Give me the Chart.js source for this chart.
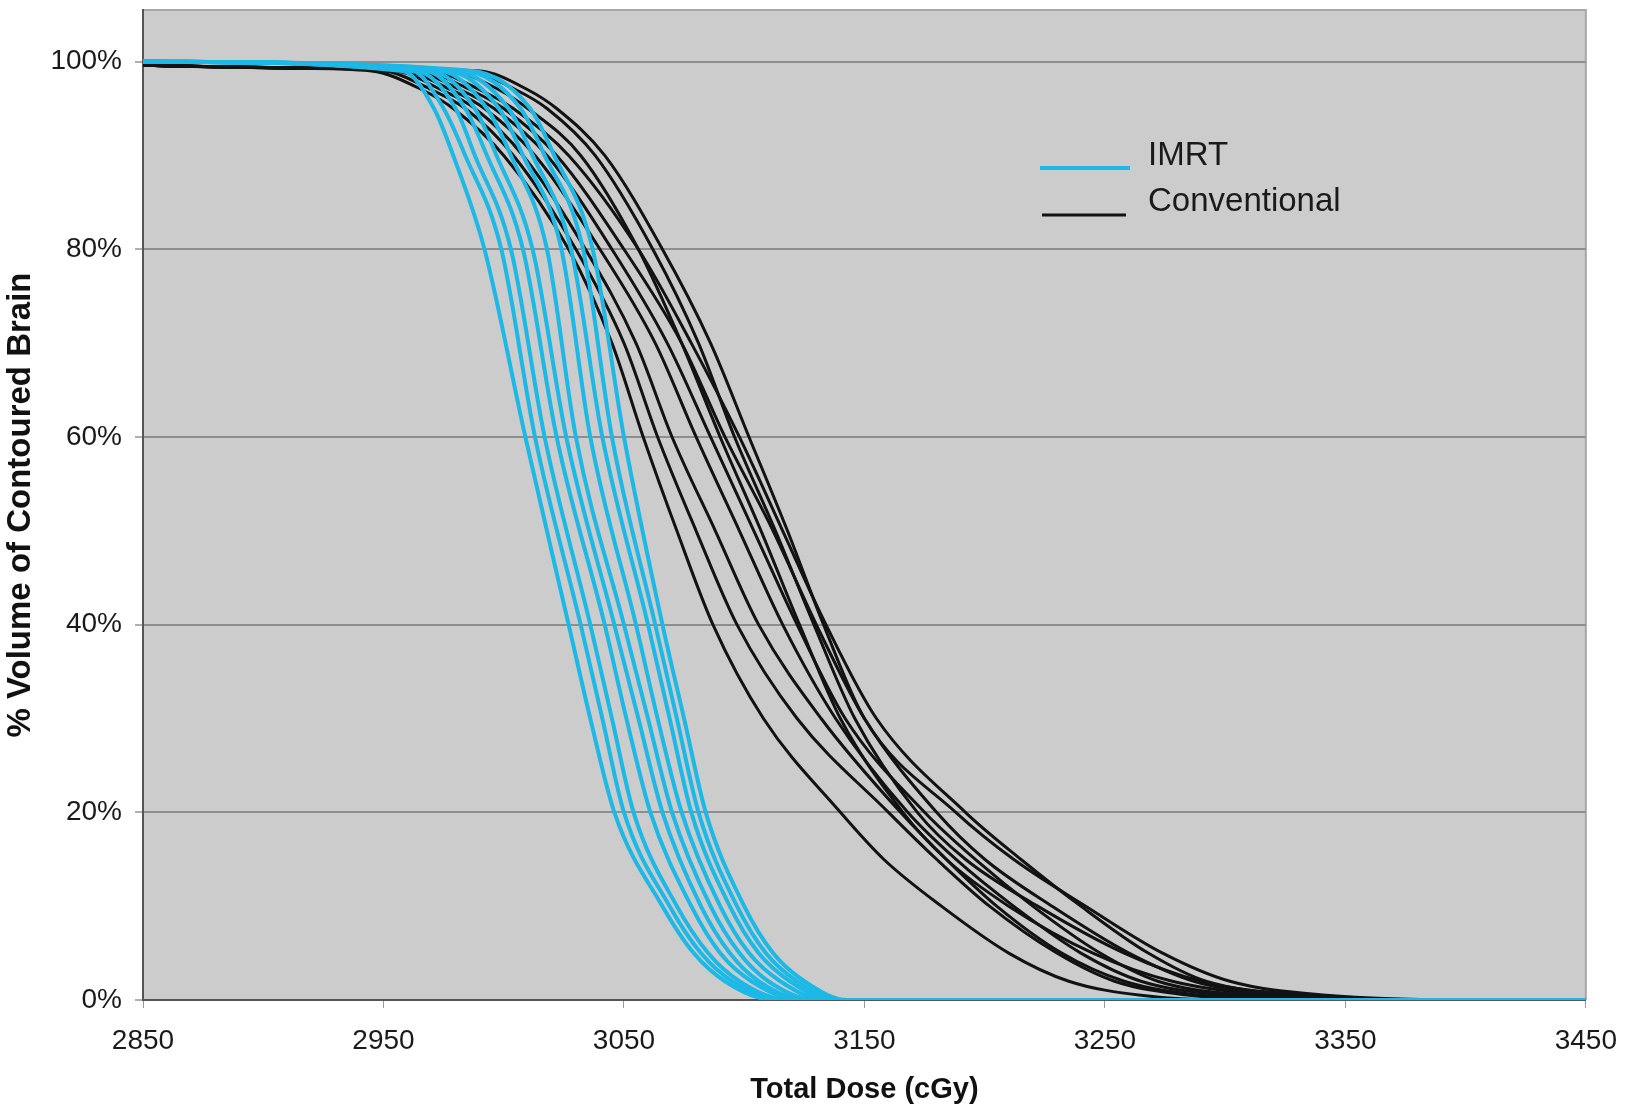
<!DOCTYPE html>
<html>
<head>
<meta charset="utf-8">
<script src="https://cdn.jsdelivr.net/npm/chart.js@4/dist/chart.umd.min.js"></script>
<style>
  html, body { margin: 0; padding: 0; background: #ffffff; }
  #wrap { width: 1633px; height: 1107px; }
</style>
</head>
<body>
<div id="wrap"><canvas id="dvh" width="1633" height="1107"></canvas></div>
<script>
// tick labels
var doseTicks = [2850, 2950, 3050, 3150, 3250, 3350, 3450];
var volumeTicks = [0, 20, 40, 60, 80, 100];

// IMRT curves: dose (cGy) read at each volume level
var imrtLevels = [100, 99, 95, 90, 80, 60, 40, 30, 20, 10, 5, 2, 0, 0];
var imrt1 = [2850, 2958, 2971, 2979, 2992, 3009, 3027, 3036, 3046, 3066, 3079, 3092, 3112, 3450];
var imrt2 = [2850, 2962, 2975, 2984, 2999, 3013, 3032, 3041, 3050, 3069, 3082, 3095, 3115, 3450];
var imrt3 = [2850, 2964, 2980, 2988, 3003, 3017, 3036, 3045, 3054, 3072, 3085, 3098, 3118, 3450];
var imrt4 = [2850, 2968, 2984, 2993, 3008, 3022, 3042, 3051, 3061, 3078, 3090, 3103, 3123, 3450];
var imrt5 = [2850, 2970, 2988, 2997, 3012, 3026, 3046, 3056, 3066, 3082, 3094, 3106, 3126, 3450];
var imrt6 = [2850, 2974, 2993, 3003, 3018, 3030, 3050, 3060, 3070, 3086, 3098, 3110, 3130, 3450];
var imrt7 = [2850, 2977, 2998, 3008, 3024, 3036, 3055, 3064, 3074, 3090, 3102, 3115, 3134, 3450];
var imrt8 = [2850, 2980, 3002, 3012, 3028, 3041, 3060, 3069, 3078, 3094, 3106, 3119, 3137, 3450];
var imrt9 = [2850, 2984, 3007, 3017, 3033, 3045, 3063, 3072, 3081, 3097, 3109, 3122, 3140, 3450];
var imrt10 = [2850, 2987, 3011, 3021, 3037, 3050, 3066, 3075, 3084, 3100, 3112, 3125, 3143, 3450];

// Conventional curves: dose (cGy) read at each volume level
var convLevels = [99.6, 99.3, 99, 97, 95, 90, 80, 70, 60, 50, 40, 30, 20, 15, 10, 5, 2, 0.5, 0, 0];
var conv1 = [2850, 2910, 2945, 2966, 2979, 3000, 3027, 3045, 3058, 3072, 3087, 3108, 3140, 3158, 3182, 3210, 3235, 3265, 3300, 3450];
var conv2 = [2850, 2912, 2950, 2970, 2984, 3004, 3030, 3050, 3064, 3080, 3097, 3122, 3160, 3180, 3202, 3230, 3254, 3285, 3320, 3450];
var conv3 = [2850, 2915, 2955, 2974, 2988, 3008, 3034, 3055, 3070, 3088, 3106, 3132, 3165, 3184, 3205, 3232, 3258, 3290, 3330, 3450];
var conv4 = [2850, 2918, 2958, 2978, 2992, 3013, 3040, 3063, 3080, 3098, 3116, 3138, 3168, 3188, 3212, 3240, 3265, 3300, 3340, 3450];
var conv5 = [2850, 2920, 2962, 2982, 2996, 3018, 3045, 3068, 3086, 3104, 3122, 3142, 3175, 3196, 3220, 3248, 3272, 3310, 3350, 3450];
var conv6 = [2850, 2922, 2966, 2986, 3000, 3022, 3050, 3074, 3092, 3112, 3130, 3150, 3180, 3200, 3228, 3260, 3287, 3320, 3370, 3450];
var conv7 = [2850, 2924, 2970, 2990, 3004, 3027, 3056, 3078, 3098, 3116, 3134, 3155, 3192, 3215, 3240, 3268, 3292, 3335, 3395, 3450];
var conv8 = [2850, 2926, 2978, 2998, 3010, 3032, 3056, 3074, 3090, 3107, 3123, 3140, 3166, 3184, 3210, 3245, 3278, 3320, 3380, 3450];
var conv9 = [2850, 2928, 2985, 3005, 3018, 3038, 3062, 3081, 3096, 3113, 3129, 3146, 3172, 3192, 3222, 3258, 3290, 3330, 3390, 3450];
var conv10 = [2850, 2930, 2990, 3010, 3022, 3042, 3066, 3086, 3102, 3118, 3133, 3150, 3188, 3212, 3242, 3274, 3302, 3342, 3405, 3450];

var imrtCurves = [imrt1, imrt2, imrt3, imrt4, imrt5, imrt6, imrt7, imrt8, imrt9, imrt10];
var convCurves = [conv1, conv2, conv3, conv4, conv5, conv6, conv7, conv8, conv9, conv10];

var IMRT_COLOR = "#1cb8e6";
var CONV_COLOR = "#121212";
var FONT = "'Liberation Sans', Arial, sans-serif";

function toPoints(doses, levels) {
  return doses.map(function (d, i) { return { x: d, y: levels[i] }; });
}

var datasets = [];
imrtCurves.forEach(function (c) {
  datasets.push({
    label: "IMRT",
    data: toPoints(c, imrtLevels),
    borderColor: IMRT_COLOR,
    borderWidth: 4,
  });
});
convCurves.forEach(function (c) {
  datasets.push({
    label: "Conventional",
    data: toPoints(c, convLevels),
    borderColor: CONV_COLOR,
    borderWidth: 3,
  });
});

// grey plot area with thin frame
var plotArea = {
  id: "plotArea",
  beforeDraw: function (chart) {
    var ctx = chart.ctx, a = chart.chartArea;
    ctx.save();
    ctx.fillStyle = "#cccccc";
    ctx.fillRect(a.left, a.top, a.right - a.left, a.bottom - a.top);
    ctx.strokeStyle = "#a8a8a8";
    ctx.lineWidth = 2;
    ctx.beginPath();
    ctx.moveTo(a.left, a.top);
    ctx.lineTo(a.right, a.top);
    ctx.lineTo(a.right, a.bottom);
    ctx.stroke();
    ctx.restore();
  },
};

// excel style legend inside the plot
var legendBox = {
  id: "legendBox",
  afterDraw: function (chart) {
    var ctx = chart.ctx, a = chart.chartArea;
    var x0 = a.left + 897, y0 = a.top + 158;
    ctx.save();
    ctx.lineCap = "butt";
    ctx.strokeStyle = IMRT_COLOR;
    ctx.lineWidth = 4;
    ctx.beginPath(); ctx.moveTo(x0, y0); ctx.lineTo(x0 + 90, y0); ctx.stroke();
    ctx.strokeStyle = CONV_COLOR;
    ctx.lineWidth = 3;
    ctx.beginPath(); ctx.moveTo(x0 + 2, y0 + 47); ctx.lineTo(x0 + 86, y0 + 47); ctx.stroke();
    ctx.fillStyle = "#1a1a1a";
    ctx.font = "33px " + FONT;
    ctx.textAlign = "left";
    ctx.textBaseline = "alphabetic";
    ctx.fillText("IMRT", x0 + 108, y0 - 3);
    ctx.fillText("Conventional", x0 + 108, y0 + 43);
    ctx.restore();
  },
};

new Chart(document.getElementById("dvh"), {
  type: "line",
  data: { datasets: datasets },
  plugins: [plotArea, legendBox],
  options: {
    responsive: false,
    animation: false,
    devicePixelRatio: 1,
    layout: { padding: { top: 10, right: 33, left: 0, bottom: 0 } },
    elements: {
      point: { radius: 0 },
      line: { cubicInterpolationMode: "monotone", fill: false },
    },
    plugins: {
      legend: { display: false },
      tooltip: { enabled: false },
    },
    scales: {
      x: {
        type: "linear",
        min: 2850,
        max: 3450,
        afterBuildTicks: function (s) {
          s.ticks = doseTicks.map(function (v) { return { value: v }; });
        },
        afterFit: function (s) { s.height = 107; },
        ticks: {
          font: { family: FONT, size: 28 },
          color: "#1a1a1a",
          padding: 16,
          maxRotation: 0,
          callback: function (v) { return String(v); },
        },
        grid: { drawOnChartArea: false, tickLength: 8, tickColor: "#9a9a9a" },
        border: { color: "#555555", width: 2 },
        title: {
          display: true,
          text: "Total Dose (cGy)",
          font: { family: FONT, size: 29, weight: "bold" },
          color: "#111111",
          padding: { top: 0, bottom: 0 },
        },
      },
      y: {
        min: 0,
        max: 105.5,
        afterBuildTicks: function (s) {
          s.ticks = volumeTicks.map(function (v) { return { value: v }; });
        },
        afterFit: function (s) {
          s.width = 143;
          s.paddingTop = 0;
          s.paddingBottom = 0;
        },
        ticks: {
          font: { family: FONT, size: 28 },
          color: "#1a1a1a",
          padding: 13,
          callback: function (v) { return v + "%"; },
        },
        grid: { color: "#8e8e8e", lineWidth: 2, tickLength: 8, tickColor: "#b0b0b0" },
        border: { color: "#555555", width: 2 },
        title: {
          display: true,
          text: "% Volume of Contoured Brain",
          font: { family: FONT, size: 33, weight: "bold" },
          color: "#111111",
          padding: { top: 1, bottom: 0 },
        },
      },
    },
  },
});
</script>
</body>
</html>
